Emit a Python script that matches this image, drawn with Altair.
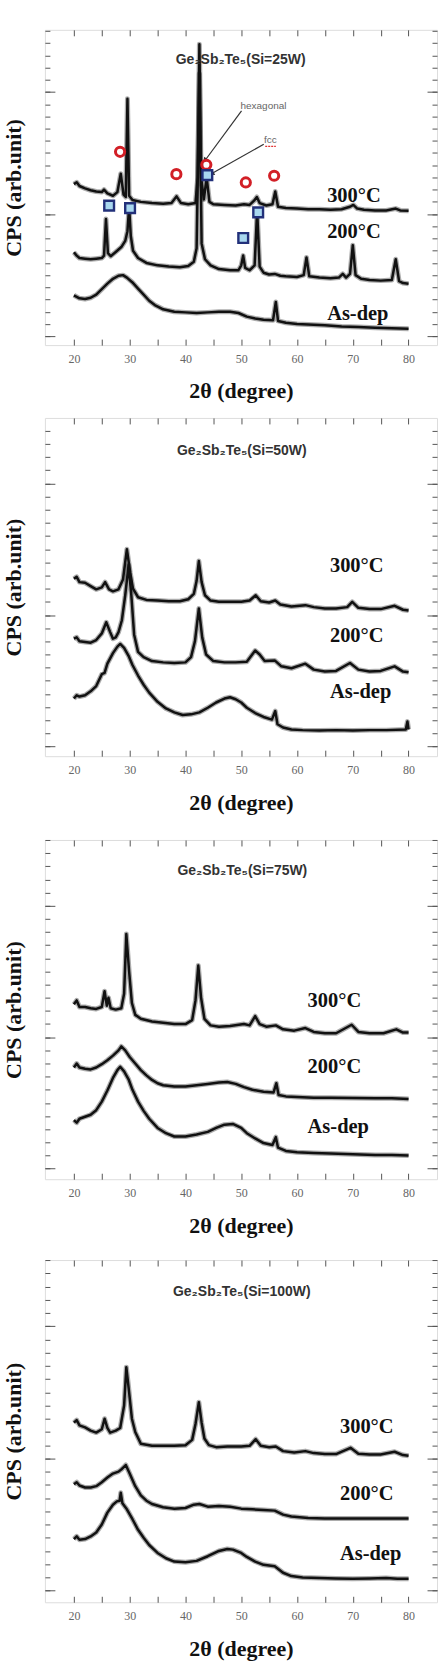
import altair as alt
import pandas as pd

# ---------------- data ----------------
X_TICKS = [20, 25, 30, 35, 40, 45, 50, 55, 60, 65, 70, 75, 80]
Y_MINOR = list(range(0, 26))
Y_MAJOR = [0, 10, 20]
SERIES_NAMES = ["300°C", "200°C", "As-dep"]
TITLES = ["Ge₂Sb₂Te₅(Si=25W)", "Ge₂Sb₂Te₅(Si=50W)", "Ge₂Sb₂Te₅(Si=75W)", "Ge₂Sb₂Te₅(Si=100W)"]

# Panel 1 (Si = 25 W)
P1_300_X = [20, 20.5, 21, 22, 23, 24, 25, 25.4, 26, 27, 27.8, 28.4, 28.9, 29.3, 29.6, 29.9, 30.5, 32, 34, 36, 37.5, 38.4, 39.2, 40.5, 41.8, 42.2, 42.5, 42.8, 43.3, 43.8, 44.3, 45, 47, 49, 50.5, 51.5, 52.3, 52.8, 53.3, 54.5, 55.6, 56.1, 56.6, 58, 60, 62, 64, 66, 68, 69.5, 70.1, 70.8, 72, 74, 76, 77.7, 78.5, 80]
P1_300_Y = [12.45, 12.6, 12.3, 12.1, 11.95, 11.85, 11.8, 12.0, 11.7, 11.5, 11.8, 13.3, 11.6, 11.4, 19.45, 11.5, 11.15, 11.0, 10.9, 10.85, 10.9, 11.45, 10.9, 10.8, 10.9, 13.0, 23.9, 13.0, 11.2, 13.0, 11.0, 10.8, 10.75, 10.7, 10.8, 10.75, 11.1, 11.4, 10.9, 10.7, 10.8, 11.85, 10.6, 10.5, 10.45, 10.4, 10.4, 10.35, 10.4, 10.6, 10.75, 10.45, 10.35, 10.3, 10.3, 10.45, 10.3, 10.28]
P1_200_X = [20, 20.5, 21, 22, 23, 24, 25, 25.4, 25.75, 26.1, 26.6, 27.5, 28.5, 29.2, 29.6, 29.9, 30.2, 30.6, 31.5, 33, 35, 37, 39, 40.5, 41.5, 42.0, 42.5, 42.9, 43.5, 44.5, 46, 48, 49.5, 50.0, 50.35, 50.7, 51.5, 52.4, 52.85, 53.3, 54, 55, 56, 57, 58, 60, 61.2, 61.7, 62.2, 64, 66, 67.5, 68.2, 68.8, 69.5, 70.0, 70.5, 71.5, 73, 75, 77.0, 77.7, 78.3, 79, 80]
P1_200_Y = [6.87, 6.6, 6.4, 6.35, 6.3, 6.35, 6.4, 6.6, 9.6, 6.8, 6.55, 6.9, 7.3, 7.8, 8.6, 10.6, 8.2, 7.0, 6.4, 6.0, 5.8, 5.7, 5.65, 5.75, 6.1, 7.2, 21.5, 7.6, 6.3, 5.8, 5.5, 5.4, 5.4, 5.8, 6.6, 5.6, 5.4, 5.8, 10.3, 5.7, 5.2, 5.05, 5.1, 4.95, 4.9, 4.85, 5.0, 6.45, 4.9, 4.8, 4.75, 4.8, 5.1, 4.8, 5.1, 7.45, 5.0, 4.7, 4.6, 4.55, 4.6, 6.3, 4.5, 4.35, 4.3]
P1_AS_X = [20, 21, 22, 23, 24, 25, 26, 27, 28, 28.8, 29.5, 30.5, 31.5, 32.5, 33.5, 34.5, 36, 38, 40, 42, 44, 46, 48, 49.5, 51, 52.5, 54, 55.7, 56.2, 56.6, 58, 60, 62, 65, 68, 71, 74, 77, 80]
P1_AS_Y = [3.35, 3.1, 3.05, 3.15, 3.4, 3.85, 4.3, 4.7, 4.95, 5.0, 4.8, 4.4, 3.9, 3.4, 2.9, 2.55, 2.2, 2.0, 1.95, 1.9, 1.95, 2.0, 2.0, 1.9, 1.6, 1.45, 1.35, 1.3, 2.8, 1.25, 1.1, 1.0, 0.95, 0.9, 0.8, 0.75, 0.7, 0.65, 0.6]

# Panel 2 (Si = 50 W)
P2_300_X = [20, 20.5, 21, 22, 23, 24, 25, 25.6, 26.3, 27, 28, 28.8, 29.5, 30.1, 30.6, 31.5, 33, 35, 37, 39, 40.5, 41.5, 42.0, 42.4, 42.9, 43.5, 44.5, 46, 48, 50, 51.5, 52.6, 53.5, 55, 56.1, 57, 59, 61.5, 63, 65, 67, 69, 69.9, 71, 73, 75, 77.5, 79, 80]
P2_300_Y = [12.75, 12.9, 12.5, 12.45, 12.2, 11.95, 12.1, 12.5, 11.95, 11.8, 11.95, 12.7, 15.0, 13.2, 12.0, 11.35, 11.15, 11.1, 11.05, 11.05, 11.2, 11.6, 12.6, 14.1, 12.5, 11.5, 11.1, 11.0, 11.0, 11.0, 11.1, 11.5, 11.05, 10.95, 11.1, 10.8, 10.65, 10.75, 10.6, 10.5, 10.5, 10.6, 11.0, 10.55, 10.45, 10.45, 10.7, 10.4, 10.35]
P2_200_X = [20, 20.5, 21, 22, 23, 24, 25, 25.8, 26.5, 27, 27.5, 28, 28.6, 29.2, 29.8, 30.3, 30.8, 31.5, 32.5, 34, 36, 38, 40, 41, 41.7, 42.4, 43.0, 43.7, 45, 47, 49, 51, 52.5, 53.3, 54.2, 56, 57.2, 59, 61.5, 63, 65, 67, 69.5, 71, 73, 75, 77.5, 79, 80]
P2_200_Y = [8.2, 8.3, 8.0, 7.95, 7.9, 8.1, 8.6, 9.45, 8.7, 8.2, 8.3, 8.7, 9.6, 11.5, 13.8, 11.5, 8.5, 7.2, 6.8, 6.5, 6.4, 6.35, 6.4, 6.8, 8.0, 10.5, 8.3, 7.0, 6.5, 6.4, 6.4, 6.45, 7.3, 7.0, 6.5, 6.55, 6.1, 5.95, 6.3, 5.85, 5.7, 5.75, 6.35, 5.85, 5.7, 5.75, 6.1, 5.7, 5.65]
P2_AS_X = [20, 20.5, 21, 22, 23, 24, 25, 25.5, 26, 27, 27.8, 28.3, 29, 29.8, 30.5, 31.5, 32.5, 33.5, 35, 36.5, 38, 39.5, 41, 42.5, 44, 45.5, 47, 48, 49, 50, 51, 52.5, 54, 55.5, 56.1, 56.5, 57.5, 59, 61, 64, 67, 70, 73, 76, 79.5, 79.8, 80]
P2_AS_Y = [3.65, 3.9, 3.8, 3.9, 4.2, 4.6, 5.5, 5.6, 6.3, 7.1, 7.6, 7.8, 7.5, 6.9, 6.2, 5.4, 4.7, 4.1, 3.4, 2.9, 2.6, 2.4, 2.45, 2.6, 2.95, 3.35, 3.65, 3.75, 3.6, 3.35, 2.95, 2.55, 2.25, 2.05, 2.7, 1.7, 1.45, 1.3, 1.25, 1.22, 1.25, 1.22, 1.25, 1.25, 1.3, 1.9, 1.3]

# Panel 3 (Si = 75 W)
P3_300_X = [20, 20.5, 21, 22, 23, 24, 25, 25.5, 25.9, 26.2, 26.6, 27.5, 28.5, 29.0, 29.4, 29.9, 30.4, 31, 32, 34, 36, 38, 40, 41.2, 41.8, 42.3, 42.8, 43.4, 44.5, 46, 48, 50.5, 51.5, 52.5, 53.3, 54.5, 56.2, 57.5, 59.5, 61.5, 63, 65, 67, 69.8, 71, 73, 75.5, 77.8, 79, 80]
P3_300_Y = [12.5, 12.8, 12.3, 12.3, 12.2, 12.15, 12.3, 13.5, 12.4, 13.0, 12.2, 12.1, 12.2, 13.3, 17.85, 15.0, 12.6, 11.7, 11.4, 11.2, 11.1, 11.0, 11.0, 11.3, 12.8, 15.45, 13.0, 11.4, 10.9, 10.8, 10.85, 11.0, 10.9, 11.6, 11.0, 10.8, 10.9, 10.6, 10.5, 10.7, 10.4, 10.3, 10.3, 10.95, 10.4, 10.3, 10.3, 10.6, 10.35, 10.35]
P3_200_X = [20, 20.5, 21, 22, 23, 24, 25, 26, 27, 28, 28.5, 29.2, 30, 31, 32, 33, 34, 35, 36, 38, 40, 42, 44, 46, 47.5, 49, 50.5, 52, 54, 55.8, 56.3, 56.7, 58, 60, 63, 66, 70, 74, 77, 80]
P3_200_Y = [7.7, 8.0, 7.7, 7.6, 7.55, 7.7, 7.95, 8.25, 8.6, 9.0, 9.3, 9.0, 8.5, 8.0, 7.5, 7.1, 6.75, 6.5, 6.35, 6.25, 6.25, 6.35, 6.45, 6.55, 6.6, 6.45, 6.2, 6.0, 5.85, 5.8, 6.5, 5.6, 5.5, 5.45, 5.4, 5.4, 5.38, 5.35, 5.35, 5.3]
P3_AS_X = [20, 20.5, 21, 22, 23, 24, 25, 26, 27, 27.8, 28.3, 29, 29.8, 30.5, 31.5, 32.5, 33.5, 35, 36.5, 38, 40, 42, 44, 45.5, 47, 48.5, 50, 51, 52.5, 54, 55.6, 56.2, 56.6, 58, 60, 63, 66, 70, 74, 77, 80]
P3_AS_Y = [3.7, 3.5, 3.8, 3.95, 4.1, 4.45, 5.1, 5.95, 6.9, 7.5, 7.75, 7.4, 6.8, 6.0, 5.1, 4.4, 3.8, 3.1, 2.7, 2.45, 2.45, 2.6, 2.8, 3.1, 3.35, 3.4, 3.1, 2.7, 2.3, 1.95, 1.8, 2.4, 1.6, 1.35, 1.25, 1.2, 1.15, 1.1, 1.05, 1.05, 1.0]

# Panel 4 (Si = 100 W)
P4_300_X = [20, 20.5, 21, 22, 23, 24, 25, 25.5, 26.0, 26.5, 27.5, 28.3, 29.0, 29.4, 29.9, 30.4, 31, 32, 34, 36, 38, 40, 41.2, 41.8, 42.4, 42.9, 43.4, 44.2, 45.5, 47.5, 50, 51.5, 52.6, 53.5, 55, 56.2, 57.5, 59.5, 61.5, 63, 65, 67, 69.6, 71, 73, 75, 77.5, 79, 80]
P4_300_Y = [12.7, 12.9, 12.5, 12.35, 12.1, 11.95, 12.2, 13.0, 12.3, 11.95, 12.1, 12.3, 14.0, 16.9, 15.0, 13.0, 12.0, 11.1, 10.95, 10.95, 10.95, 11.0, 11.4, 12.6, 14.25, 12.7, 11.5, 11.0, 10.85, 10.9, 10.9, 10.95, 11.45, 10.95, 10.85, 10.9, 10.55, 10.45, 10.55, 10.4, 10.33, 10.33, 10.8, 10.35, 10.3, 10.3, 10.5, 10.25, 10.2]
P4_200_X = [20, 20.5, 21, 22, 23, 24, 25, 26, 27, 28, 28.6, 29.3, 30, 31, 32, 33, 34, 36, 38, 40, 41.5, 42.5, 44, 46, 48, 50, 52, 54, 56, 57.5, 59, 62, 65, 70, 75, 80]
P4_200_Y = [8.05, 8.2, 7.95, 7.8, 7.8, 7.9, 8.2, 8.55, 8.85, 9.0, 9.2, 9.5, 8.85, 7.9, 7.2, 6.8, 6.55, 6.3, 6.2, 6.25, 6.5, 6.55, 6.35, 6.4, 6.35, 6.2, 6.15, 6.1, 6.05, 5.75, 5.6, 5.5, 5.45, 5.45, 5.45, 5.45]
P4_AS_X = [20, 20.5, 21, 22, 23, 24, 25, 26, 27, 27.7, 28.2, 28.4, 28.7, 29.5, 30.5, 31.5, 32.5, 33.5, 35, 36.5, 38, 40, 42, 44, 46, 47.5, 48.5, 50, 51, 52.5, 54, 56, 57.5, 59, 61, 64, 67, 70, 73, 76, 78, 80]
P4_AS_Y = [3.9, 4.1, 3.85, 3.9, 4.1, 4.4, 5.0, 5.9, 6.5, 6.75, 6.8, 7.4, 6.6, 6.15, 5.4, 4.6, 4.0, 3.45, 2.85, 2.45, 2.2, 2.15, 2.25, 2.6, 3.0, 3.15, 3.1, 2.85, 2.55, 2.2, 1.95, 1.85, 1.35, 1.1, 1.0, 0.95, 0.92, 0.9, 0.92, 0.95, 0.9, 0.9]

# label anchors (left x in degrees, y in arb. units) for 300°C, 200°C, As-dep
LABEL_X = [65.4, 65.9, 61.9, 67.7]
LABEL_Y = [[11.5, 8.5, 1.8], [13.7, 8.43, 4.14], [12.79, 7.72, 3.17], [12.34, 7.31, 2.77]]
TITLE_X = [49.9, 50.1, 50.2, 50.1]
TITLE_Y = [22.64, 22.45, 22.66, 22.55]

# panel 1 phase markers
CIRCLE_X = [28.28, 38.37, 43.74, 50.82, 55.9]
CIRCLE_Y = [15.1, 13.27, 14.04, 12.59, 13.14]
SQUARE_X = [26.32, 30.07, 43.92, 50.36, 53.04]
SQUARE_Y = [10.69, 10.49, 13.19, 8.04, 10.14]
ARROW_NAMES = ["hexagonal", "fcc"]
ARROW_X = [[50.05, 43.6], [54.04, 44.81]]
ARROW_Y = [[18.46, 14.45], [15.72, 13.35]]
ANNOT_X = [53.99, 55.24]
ANNOT_Y = [18.87, 16.1]
FCC_MARK_X = [54.3, 56.2]
FCC_MARK_Y = [15.55, 15.55]

# ---------------- chart ----------------
SERIF = "Liberation Serif"
SANS = "Liberation Sans"
INK = "#111111"
TICK = "#555555"
XDOM = [14.8, 85.1]
W = 393
HEIGHTS = [316, 339, 340, 343]
YDOMS = [[-0.73, 25.09], [-0.73, 24.98], [-0.8, 25.0], [-0.88, 25.0]]
SPACERS = [0, 0, 10, 7]

AX_BOTTOM = alt.Axis(orient="bottom", values=X_TICKS,
                     labelExpr="datum.value % 10 === 0 ? datum.label : ''",
                     tickSize=6, offset=-6, domain=False, grid=False, tickColor=TICK,
                     labelPadding=8, labelFont=SERIF, labelFontSize=12, labelColor="#666666",
                     title="2θ (degree)", titleFont=SERIF, titleFontSize=22,
                     titleFontWeight="bold", titleColor=INK, titlePadding=17)
AX_TOP = alt.Axis(orient="top", values=X_TICKS, labels=False, tickSize=6, offset=-6,
                  domain=False, grid=False, tickColor=TICK, title=None)
AX_LEFT_MINOR = alt.Axis(orient="left", values=Y_MINOR, labels=False, tickSize=5, offset=-5,
                         domain=False, grid=False, tickColor=TICK,
                         title="CPS (arb.unit)", titleFont=SERIF, titleFontSize=22,
                         titleFontWeight="bold", titleColor=INK, titlePadding=19)
AX_LEFT_MAJOR = alt.Axis(orient="left", values=Y_MAJOR, labels=False, tickSize=10, offset=-10,
                         domain=False, grid=False, tickColor=TICK, title=None)
AX_RIGHT_MINOR = alt.Axis(orient="right", values=Y_MINOR, labels=False, tickSize=5, offset=-5,
                          domain=False, grid=False, tickColor=TICK, title=None)
AX_RIGHT_MAJOR = alt.Axis(orient="right", values=Y_MAJOR, labels=False, tickSize=10, offset=-10,
                          domain=False, grid=False, tickColor=TICK, title=None)


def xenc(axis):
    return alt.X("x:Q", scale=alt.Scale(domain=XDOM, nice=False, zero=False), axis=axis)


def yenc(dom, axis):
    return alt.Y("y:Q", scale=alt.Scale(domain=dom, nice=False, zero=False), axis=axis)


def line_layers(xv, yv, ydom, xaxis, yaxis):
    df = pd.DataFrame({"x": xv, "y": yv})
    halo = alt.Chart(df).mark_line(color=INK, strokeWidth=5.0, opacity=0.35,
                                   strokeJoin="round").encode(x=xenc(None), y=yenc(ydom, None))
    core = alt.Chart(df).mark_line(color=INK, strokeWidth=2.5, strokeJoin="round").encode(
        x=xenc(xaxis), y=yenc(ydom, yaxis))
    return [halo, core]


PANEL_DATA = [
    (P1_300_X, P1_300_Y, P1_200_X, P1_200_Y, P1_AS_X, P1_AS_Y),
    (P2_300_X, P2_300_Y, P2_200_X, P2_200_Y, P2_AS_X, P2_AS_Y),
    (P3_300_X, P3_300_Y, P3_200_X, P3_200_Y, P3_AS_X, P3_AS_Y),
    (P4_300_X, P4_300_Y, P4_200_X, P4_200_Y, P4_AS_X, P4_AS_Y),
]


def panel1_extras(ydom):
    circ = alt.Chart(pd.DataFrame({"x": CIRCLE_X, "y": CIRCLE_Y})).mark_point(
        shape="circle", filled=False, size=85, stroke="#d21f26", strokeWidth=3, opacity=1
    ).encode(x=xenc(None), y=yenc(ydom, None))
    sq = alt.Chart(pd.DataFrame({"x": SQUARE_X, "y": SQUARE_Y})).mark_point(
        shape="square", filled=True, size=95, fill="#a9d8ef", stroke="#22307a", strokeWidth=2.4, opacity=1
    ).encode(x=xenc(None), y=yenc(ydom, None))
    rows = []
    for name, xs_, ys_ in zip(ARROW_NAMES, ARROW_X, ARROW_Y):
        for xv, yv in zip(xs_, ys_):
            rows.append({"id": name, "x": xv, "y": yv})
    arr = alt.Chart(pd.DataFrame(rows)).mark_line(color="#333333", strokeWidth=1.2).encode(
        x=xenc(None), y=yenc(ydom, None), detail="id:N")
    heads = []
    for i, ang in enumerate([216, 241]):
        heads.append(alt.Chart(pd.DataFrame({"x": [ARROW_X[i][1]], "y": [ARROW_Y[i][1]]})).mark_point(
            shape="triangle", filled=True, size=35, color="#333333", angle=ang, opacity=1
        ).encode(x=xenc(None), y=yenc(ydom, None)))
    ann = alt.Chart(pd.DataFrame({"x": ANNOT_X, "y": ANNOT_Y, "t": ARROW_NAMES})).mark_text(
        font=SANS, fontSize=10, color="#666666"
    ).encode(x=xenc(None), y=yenc(ydom, None), text="t:N")
    wavy = alt.Chart(pd.DataFrame({"x": FCC_MARK_X, "y": FCC_MARK_Y})).mark_line(
        color="#e03030", strokeWidth=1.2, strokeDash=[2, 1]
    ).encode(x=xenc(None), y=yenc(ydom, None))
    return [arr] + heads + [circ, sq, ann, wavy]


panels = []
for i in range(4):
    ydom = YDOMS[i]
    x3, y3, x2, y2, xa, ya = PANEL_DATA[i]
    layers = []
    layers += line_layers(xa, ya, ydom, AX_BOTTOM, AX_LEFT_MINOR)
    layers += line_layers(x2, y2, ydom, AX_TOP, AX_RIGHT_MINOR)
    layers += line_layers(x3, y3, ydom, None, AX_LEFT_MAJOR)
    lab_df = pd.DataFrame({"x": [LABEL_X[i]] * 3, "y": LABEL_Y[i], "t": SERIES_NAMES})
    lab = alt.Chart(lab_df).mark_text(align="left", baseline="middle", font=SERIF, fontSize=20.5,
                                      fontWeight="bold", color=INK).encode(
        x=xenc(None), y=yenc(ydom, AX_RIGHT_MAJOR), text="t:N")
    ttl_df = pd.DataFrame({"x": [TITLE_X[i]], "y": [TITLE_Y[i]], "t": [TITLES[i]]})
    ttl = alt.Chart(ttl_df).mark_text(font=SANS, fontSize=14, fontWeight="bold",
                                      color="#333333").encode(
        x=xenc(None), y=yenc(ydom, None), text="t:N")
    layers += [lab, ttl]
    if i == 0:
        layers += panel1_extras(ydom)
    ch = alt.layer(*layers).resolve_axis(x="independent", y="independent").properties(
        width=W, height=HEIGHTS[i])
    if SPACERS[i] > 0:
        ch = ch.properties(title=alt.TitleParams(text=" ", fontSize=1, offset=SPACERS[i]))
    panels.append(ch)

chart = alt.vconcat(*panels, spacing=14).properties(
    padding={"left": 2, "top": 27, "right": 5, "bottom": 5}
).configure_view(stroke="#3a3a3a", strokeWidth=1.8).configure(background="white")

chart.save("out.html", embed_options={"renderer": "svg", "actions": False})
